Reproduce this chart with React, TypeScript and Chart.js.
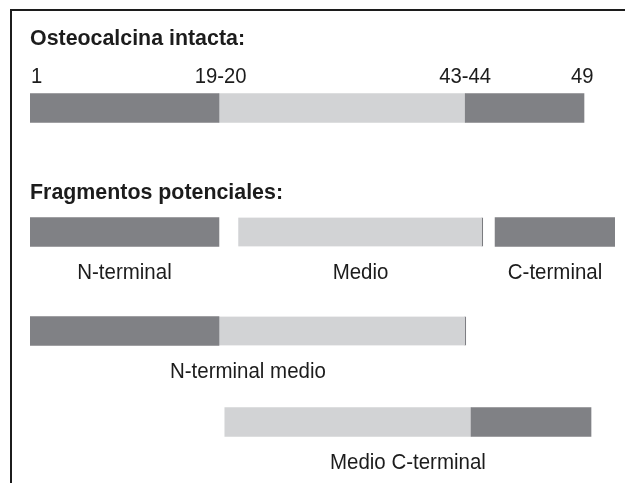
import React, { useEffect, useRef } from 'react';
import { Chart, registerables } from 'chart.js';

Chart.register(...registerables);

// Schematic rows (vertical position in layout units, 1 unit ≈ 10 px)
const rowNames = ['Osteocalcina intacta', 'N-terminal / Medio / C-terminal', 'N-terminal medio', 'Medio C-terminal'];
const rowPositions = [10.8, 23.2, 33.1, 42.2];

// Segments on the schematic sequence axis (0–100)
const segmentRows = [0, 0, 0, 1, 1, 1, 2, 2, 3, 3];
const segmentStarts = [0, 32.3, 74.4, 0, 35.6, 79.5, 0, 32.3, 33.3, 75.4];
const segmentEnds = [32.3, 74.4, 94.7, 32.3, 77.4, 100, 32.3, 74.5, 75.4, 95.9];
const segmentTones = ['terminal', 'medio', 'terminal', 'terminal', 'medio', 'terminal', 'terminal', 'medio', 'medio', 'terminal'];
const segmentCut = [false, false, false, false, true, false, false, true, false, false];

// Residue tick labels on the intact molecule
const residueLabels = ['1', '19-20', '43-44', '49'];
const residuePositions = [0, 32.6, 74.4, 94.4];

// Fragment captions
const fragmentNames = ['N-terminal', 'Medio', 'C-terminal', 'N-terminal medio', 'Medio C-terminal'];
const fragmentRows = [1, 1, 1, 2, 3];
const fragmentStarts = [0, 35.6, 79.5, 0, 33.3];
const fragmentEnds = [32.3, 77.4, 100, 74.5, 95.9];

const headings = ['Osteocalcina intacta:', 'Fragmentos potenciales:'];

const DARK = '#808185';
const LIGHT = '#d2d3d5';
const INK = '#1c1c1c';
const FONT = '"Liberation Sans", Arial, sans-serif';

function buildData(tone: string) {
  const out: any[] = [];
  segmentTones.forEach((t, i) => {
    if (t === tone) {
      out.push({ x: [segmentStarts[i], segmentEnds[i]], y: rowPositions[segmentRows[i]], cut: segmentCut[i], row: rowNames[segmentRows[i]] });
    }
  });
  return out;
}

function drawText(ctx: CanvasRenderingContext2D, text: string, px: number, py: number, align: 'left' | 'center', sx: number) {
  ctx.save();
  ctx.translate(px, py);
  ctx.scale(sx, 1);
  ctx.textAlign = align;
  ctx.fillText(text, 0, 0);
  ctx.restore();
}

const textPlugin = {
  id: 'schemaText',
  afterDraw(chart: any) {
    const { ctx } = chart;
    const x = chart.scales.x;
    const y = chart.scales.y;
    ctx.save();
    // frame
    ctx.strokeStyle = INK;
    ctx.lineWidth = 2;
    ctx.strokeRect(11, 10, 1000, 1000);

    ctx.fillStyle = INK;
    ctx.textBaseline = 'alphabetic';
    const left = x.getPixelForValue(0);
    ctx.font = 'bold 22.5px ' + FONT;
    drawText(ctx, headings[0], left, y.getPixelForValue(rowPositions[0]) - 63, 'left', 0.95);
    drawText(ctx, headings[1], left, y.getPixelForValue(rowPositions[1]) - 33, 'left', 0.95);

    ctx.font = '22.5px ' + FONT;
    residueLabels.forEach((t, i) => {
      drawText(ctx, t, x.getPixelForValue(residuePositions[i]) + (i === 0 ? 1 : 0), y.getPixelForValue(rowPositions[0]) - 25, i === 0 ? 'left' : 'center', 0.9);
    });

    fragmentNames.forEach((t, i) => {
      const cx = (x.getPixelForValue(fragmentStarts[i]) + x.getPixelForValue(fragmentEnds[i])) / 2;
      drawText(ctx, t, cx, y.getPixelForValue(rowPositions[fragmentRows[i]]) + 47, 'center', 0.91);
    });
    ctx.restore();
  },
};

export default function App() {
  const ref = useRef<HTMLCanvasElement | null>(null);
  useEffect(() => {
    if (!ref.current) return;
    const borderW = (c: any) => (c.raw && c.raw.cut ? { top: 0, right: 1, bottom: 0, left: 0 } : 0);
    const chart = new Chart(ref.current, {
      type: 'bar',
      data: {
        datasets: [
          {
            label: 'Extremos terminales',
            data: buildData('terminal'),
            backgroundColor: DARK,
            borderColor: '#6f7074',
            borderWidth: borderW,
            borderSkipped: false,
            barThickness: 29,
            grouped: false,
          } as any,
          {
            label: 'Región media',
            data: buildData('medio'),
            backgroundColor: LIGHT,
            borderColor: '#6f7074',
            borderWidth: borderW,
            borderSkipped: false,
            barThickness: 29,
            grouped: false,
          } as any,
        ],
      },
      options: {
        indexAxis: 'y',
        responsive: false,
        animation: false,
        devicePixelRatio: 1,
        layout: { padding: { left: 30, right: 10, top: 0, bottom: 0 } },
        scales: {
          x: { type: 'linear', min: 0, max: 100, display: false, offset: false },
          y: { type: 'linear', min: 0, max: 48.3, reverse: true, display: false, offset: false },
        },
        plugins: {
          legend: { display: false },
          tooltip: { enabled: false },
          title: { display: false },
        },
      } as any,
      plugins: [textPlugin],
    });
    return () => chart.destroy();
  }, []);
  return (
    <div style={{ position: 'absolute', left: 0, top: 0, width: 625, height: 483, background: '#ffffff' }}>
      <canvas ref={ref} width={625} height={483} style={{ display: 'block', width: 625, height: 483 }} />
    </div>
  );
}
